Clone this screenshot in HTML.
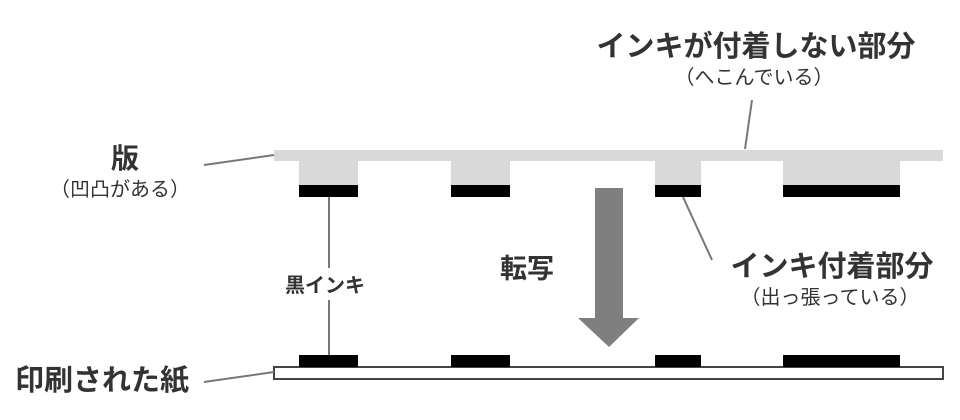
<!DOCTYPE html>
<html><head><meta charset="utf-8"><style>
html,body{margin:0;padding:0;background:#fff;}
svg{display:block;}
text{font-family:"Liberation Sans","Noto Sans CJK JP",sans-serif;fill:#333;}
</style></head><body>
<svg width="960" height="420" viewBox="0 0 960 420" xmlns="http://www.w3.org/2000/svg">
<rect x="274" y="150" width="669" height="11" fill="#d9d9d9"/>
<rect x="299" y="160" width="59" height="25" fill="#d9d9d9"/>
<rect x="451" y="160" width="59" height="25" fill="#d9d9d9"/>
<rect x="655" y="160" width="46" height="25" fill="#d9d9d9"/>
<rect x="783" y="160" width="117" height="25" fill="#d9d9d9"/>
<rect x="299" y="185" width="59" height="12" fill="#000"/>
<rect x="451" y="185" width="59" height="12" fill="#000"/>
<rect x="655" y="185" width="46" height="12" fill="#000"/>
<rect x="783" y="185" width="117" height="12" fill="#000"/>
<rect x="274" y="367" width="669" height="12" fill="#fff" stroke="#444" stroke-width="2"/>
<rect x="299" y="355" width="59" height="12" fill="#000"/>
<rect x="451" y="355" width="59" height="12" fill="#000"/>
<rect x="655" y="355" width="46" height="12" fill="#000"/>
<rect x="783" y="355" width="117" height="12" fill="#000"/>
<rect x="595" y="188" width="28" height="131" fill="#7f7f7f"/>
<polygon points="578,318 639,318 609,347" fill="#7f7f7f"/>
<g stroke="#777" stroke-width="2" fill="none">
<line x1="204" y1="165" x2="274" y2="155"/>
<line x1="204" y1="382" x2="274" y2="372"/>
<line x1="745" y1="149" x2="752" y2="100"/>
<line x1="683" y1="197" x2="712" y2="260"/>
<line x1="329" y1="197" x2="329" y2="268"/>
<line x1="329" y1="300" x2="329" y2="355"/>
</g>
<text x="125" y="168" font-size="28" font-weight="bold" text-anchor="middle">版</text>
<text x="120" y="196" font-size="20" text-anchor="middle">（凹凸がある）</text>
<text x="102" y="390" font-size="29" font-weight="bold" text-anchor="middle">印刷された紙</text>
<text x="756" y="56" font-size="29" font-weight="bold" text-anchor="middle">インキが付着しない部分</text>
<text x="754" y="84" font-size="20" text-anchor="middle">（へこんでいる）</text>
<text x="832" y="276" font-size="29" font-weight="bold" text-anchor="middle">インキ付着部分</text>
<text x="830" y="304" font-size="20" text-anchor="middle">（出っ張っている）</text>
<text x="325" y="292" font-size="20" font-weight="bold" text-anchor="middle">黒インキ</text>
<text x="527" y="278" font-size="27" font-weight="bold" text-anchor="middle">転写</text>
</svg>
</body></html>
